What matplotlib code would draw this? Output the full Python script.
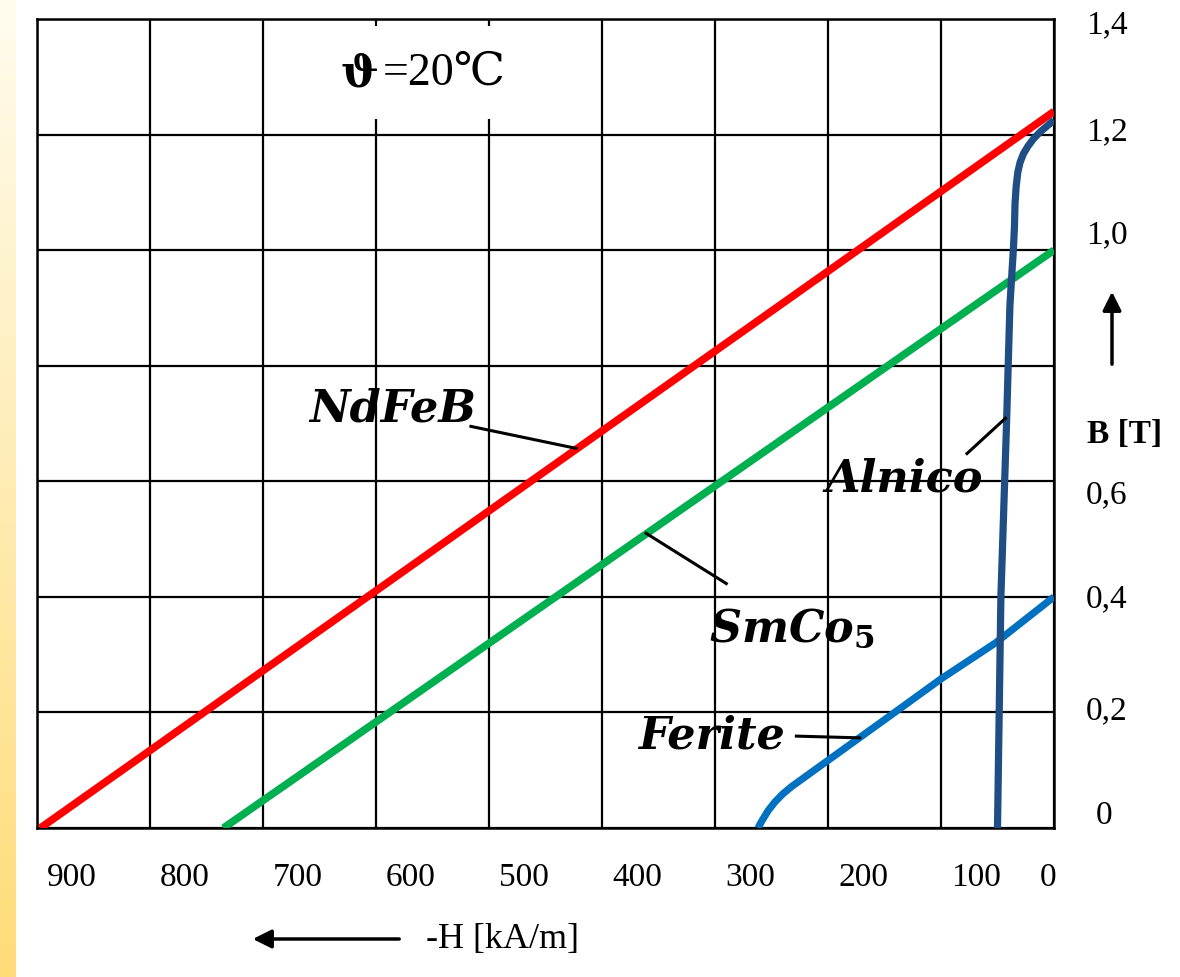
import numpy as np
import matplotlib.pyplot as plt
from matplotlib.transforms import ScaledTranslation

# demagnetisation curves, -H in kA/m, B in T
ndfeb_h = [897, 0]
ndfeb_b = [0.0, 1.24]

smco_h = [735, 0]
smco_b = [0.0, 1.0]

ferrite_h = [262, 258, 253, 247, 240, 232, 222, 210, 200, 141, 100, 52, 0]
ferrite_b = [0.0, 0.014, 0.030, 0.045, 0.059, 0.072, 0.086, 0.103, 0.117, 0.2, 0.258, 0.32, 0.40]

alnico_h = [50, 47, 42, 39, 36, 35, 34.5, 33.5, 32, 30, 27, 23, 18, 12, 6, 0]
alnico_b = [0.0, 0.4, 0.7, 0.905, 1.0, 1.04, 1.08, 1.11, 1.135, 1.152, 1.167, 1.18, 1.193, 1.205, 1.215, 1.225]

x_ticks = [900, 800, 700, 600, 500, 400, 300, 200, 100, 0]
x_labels = ["900", "800", "700", "600", "500", "400", "300", "200", "100", "0"]
y_ticks = [1.4, 1.2, 1.0, 0.8, 0.6, 0.4, 0.2, 0.0]
y_labels = ["1,4", "1,2", "1,0", "", "0,6", "0,4", "0,2", "0"]

# curve name labels: (text, text pos, leader start, leader end)
callouts = [
    ("NdFeB", (585, 0.726), (516, 0.695), (423, 0.657)),
    ("SmCo$_\\mathbf{5}$", (232, 0.346), (290, 0.423), (361, 0.51)),
    ("Alnico", (133, 0.605), (77, 0.648), (43, 0.709)),
    ("Ferite", (303, 0.161), (228, 0.159), (172, 0.156)),
]

plt.rcParams["mathtext.fontset"] = "dejavuserif"
serif = ["Liberation Serif", "DejaVu Serif"]

fig = plt.figure(figsize=(11.8, 9.78), dpi=100)

# yellow strip on the left edge
strip = fig.add_axes([0, 0, 15 / 1180, 1])
grad = np.linspace(0, 1, 256).reshape(-1, 1)
strip.imshow(grad, aspect="auto", cmap=plt.matplotlib.colors.LinearSegmentedColormap.from_list(
    "strip", ["#fffcee", "#ffdc78"]), extent=[0, 1, 0, 1], origin="upper")
strip.axis("off")

ax = fig.add_axes([37 / 1180, 1 - 829 / 978, (1054 - 37) / 1180, (829 - 20) / 978])
ax.set_xlim(900, 0)
ax.set_ylim(0, 1.4)

ax.set_xticks(x_ticks, x_labels)
ax.set_yticks(y_ticks, y_labels)
ax.grid(True, color="black", lw=1.6)
ax.set_axisbelow(True)
for s in ax.spines.values():
    s.set_color("black")
    s.set_linewidth(1.8)
ax.tick_params(length=0)
ax.tick_params(axis="x", pad=24, labelsize=24)
ax.tick_params(axis="y", left=False, labelleft=False, right=True, labelright=True,
               pad=23, labelsize=24)
for lab in ax.get_xticklabels() + ax.get_yticklabels():
    lab.set_family(serif)

# labels in the original sit a bit off the grid lines
for lab in ax.get_xticklabels():
    dx = -6 if lab.get_text() == "0" else 35
    lab.set_transform(lab.get_transform() + ScaledTranslation(dx / 100, 0, fig.dpi_scale_trans))
y_shift = [-2, 7, 20, 0, -9, 2, 6, 17]
for lab, dy in zip(ax.get_yticklabels(), y_shift):
    dx = 10 if lab.get_text() == "0" else 0
    lab.set_transform(lab.get_transform() + ScaledTranslation(dx / 100, dy / 100, fig.dpi_scale_trans))

ax.plot(ndfeb_h, ndfeb_b, color="#ff0000", lw=5.5, solid_capstyle="butt", zorder=3)
ax.plot(smco_h, smco_b, color="#00b050", lw=5.5, solid_capstyle="butt", zorder=3)
ax.plot(ferrite_h, ferrite_b, color="#0070c0", lw=5.2, solid_capstyle="butt",
        solid_joinstyle="round", zorder=3)
ax.plot(alnico_h, alnico_b, color="#1f4e85", lw=5.2, solid_capstyle="butt",
        solid_joinstyle="round", zorder=3)

for name, pos, p0, p1 in callouts:
    ax.text(pos[0], pos[1], name, family="DejaVu Serif", weight="bold", style="italic",
            fontsize=32, ha="center", va="center", zorder=4)
    ax.plot([p0[0], p1[0]], [p0[1], p1[1]], color="black", lw=2.2, zorder=4)

# temperature note, white box breaks the grid lines behind it
box = dict(boxstyle="square,pad=0.55", fc="white", ec="none")
ax.text(594, 1.307, "=20\u2103", family=serif, fontsize=33,
        ha="left", va="center", bbox=box, zorder=2)
ax.text(598, 1.307, "\u03d1", family="DejaVu Serif", weight="bold", fontsize=32,
        ha="right", va="center", zorder=3)

# axis names with arrows
arrow = dict(arrowstyle="-|>", lw=2.5, color="black", mutation_scale=28)
ax.annotate("", xy=(1112, 978 - 290), xytext=(1112, 978 - 368),
            xycoords="figure pixels", textcoords="figure pixels", arrowprops=arrow)
ax.annotate("", xy=(250, 978 - 940), xytext=(402, 978 - 940),
            xycoords="figure pixels", textcoords="figure pixels", arrowprops=arrow)
fig.text(1125 / 1180, 1 - 435 / 978, "B [T]", family=serif, weight="bold",
         fontsize=24, ha="center", va="center")
fig.text(502 / 1180, 1 - 940 / 978, "-H [kA/m]", family=serif,
         fontsize=26, ha="center", va="center")

fig.savefig("out.png", dpi=100)
